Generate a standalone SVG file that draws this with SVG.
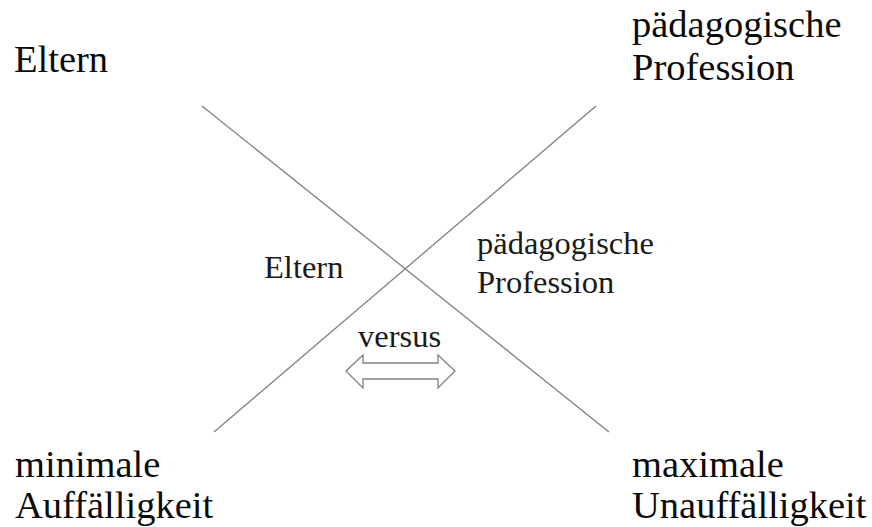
<svg xmlns="http://www.w3.org/2000/svg" width="872" height="527" viewBox="0 0 872 527">
  <style>
    text { font-family: 'Liberation Serif', 'DejaVu Serif', serif; fill: #0a0a0a; }
    .big { font-size: 38.5px; }
    .mid { font-size: 32.5px; fill: #1a1a1a; }
    .axis { stroke: #808080; stroke-width: 1.3; fill: none; }
    .dbl { stroke: #808080; stroke-width: 1.3; fill: #fff; }
  </style>
  <rect width="872" height="527" fill="#fff"/>

  <!-- crossing axes -->
  <g id="connectors">
    <line class="axis" x1="202" y1="106" x2="609" y2="432"/>
    <line class="axis" x1="214" y1="432" x2="596" y2="106"/>
    <!-- double-headed hollow arrow -->
    <polygon class="dbl" points="346,371 363,355 363,363 438,363 438,355 455,371 438,388 438,379 363,379 363,388"/>
  </g>

  <g id="eltern-top">
    <text class="big" x="14" y="72">Eltern</text>
  </g>
  <g id="profession-top">
    <text class="big" x="632" y="37">pädagogische</text>
    <text class="big" x="632" y="80">Profession</text>
  </g>
  <g id="minimal">
    <text class="big" x="15" y="477">minimale</text>
    <text class="big" x="15" y="518">Auffälligkeit</text>
  </g>
  <g id="maximal">
    <text class="big" x="632" y="477">maximale</text>
    <text class="big" x="632" y="518">Unauffälligkeit</text>
  </g>

  <g id="eltern-center">
    <text class="mid" x="264" y="278">Eltern</text>
  </g>
  <g id="profession-center">
    <text class="mid" x="477" y="254">pädagogische</text>
    <text class="mid" x="477" y="293">Profession</text>
  </g>
  <g id="versus">
    <text class="mid" x="358" y="347">versus</text>
  </g>
</svg>
